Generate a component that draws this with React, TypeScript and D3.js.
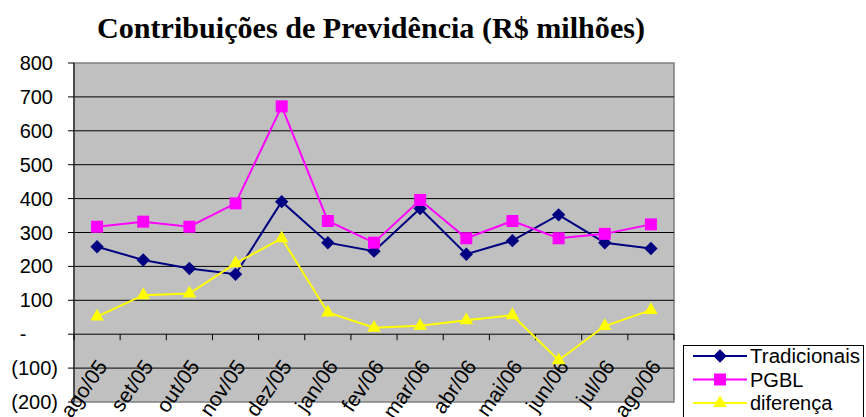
import React, { useEffect, useRef } from "react";
import * as d3 from "d3";

// monthly figures, R$ millions
const months = [
  "ago/05", "set/05", "out/05", "nov/05", "dez/05", "jan/06", "fev/06",
  "mar/06", "abr/06", "mai/06", "jun/06", "jul/06", "ago/06",
];
const tradicionais = [258, 219, 194, 177, 391, 270, 245, 371, 236, 276, 352, 270, 253];
const pgbl = [317, 332, 317, 386, 672, 334, 270, 396, 283, 334, 283, 296, 324];
const diferenca = [52, 115, 120, 209, 283, 64, 19, 25, 41, 56, -77, 24, 71];
const yTicks = [800, 700, 600, 500, 400, 300, 200, 100, 0, -100, -200];

const series = [
  { name: "Tradicionais", values: tradicionais, color: "#000080", shape: "diamond" },
  { name: "PGBL", values: pgbl, color: "#FF00FF", shape: "square" },
  { name: "diferença", values: diferenca, color: "#FFFF00", shape: "triangle" },
];

const fmt = (v: number) => (v === 0 ? "-" : v < 0 ? `(${-v})` : `${v}`);

const App = () => {
  const svgRef = useRef<SVGSVGElement>(null);

  useEffect(() => {
    const root = d3.select(svgRef.current);
    root.selectAll("*").remove();

    const width = 866;
    const height = 417;
    const plot = { left: 74, right: 674, top: 63, bottom: 402 };

    root.attr("width", width).attr("height", height);

    const x = d3.scaleBand().domain(months).range([plot.left, plot.right]);
    const y = d3.scaleLinear().domain([-200, 800]).range([plot.bottom, plot.top]);
    const cx = (m: string) => (x(m) as number) + x.bandwidth() / 2;

    // title
    root
      .append("text")
      .attr("x", 371)
      .attr("y", 38)
      .attr("text-anchor", "middle")
      .attr("font-family", "'Liberation Serif', 'Times New Roman', serif")
      .attr("font-weight", "bold")
      .attr("font-size", 29)
      .attr("textLength", 548)
      .attr("lengthAdjust", "spacingAndGlyphs")
      .text("Contribuições de Previdência (R$ milhões)");

    // plot area
    root
      .append("rect")
      .attr("x", plot.left)
      .attr("y", plot.top)
      .attr("width", plot.right - plot.left)
      .attr("height", plot.bottom - plot.top)
      .attr("fill", "#C0C0C0")
      .attr("stroke", "#808080")
      .attr("stroke-width", 1.5);

    // gridlines
    root
      .append("g")
      .selectAll("line")
      .data(yTicks.filter((d) => d !== 800 && d !== -200))
      .join("line")
      .attr("x1", plot.left)
      .attr("x2", plot.right)
      .attr("y1", (d) => y(d))
      .attr("y2", (d) => y(d))
      .attr("stroke", "#000")
      .attr("stroke-width", 1);

    // value axis
    const font = "'Liberation Sans', Arial, sans-serif";
    const yAxis = root.append("g");
    yAxis
      .append("line")
      .attr("x1", plot.left)
      .attr("x2", plot.left)
      .attr("y1", plot.top)
      .attr("y2", plot.bottom)
      .attr("stroke", "#333")
      .attr("stroke-width", 1.5);
    yAxis
      .selectAll("line.tick")
      .data(yTicks)
      .join("line")
      .attr("class", "tick")
      .attr("x1", plot.left - 6)
      .attr("x2", plot.left)
      .attr("y1", (d) => y(d))
      .attr("y2", (d) => y(d))
      .attr("stroke", "#000");
    yAxis
      .selectAll("text")
      .data(yTicks)
      .join("text")
      .attr("x", (d) => (d === 0 ? 23 : d < 0 ? 58 : 53))
      .attr("y", (d) => y(d))
      .attr("dy", "0.35em")
      .attr("text-anchor", (d) => (d === 0 ? "middle" : "end"))
      .attr("font-family", font)
      .attr("font-size", 20)
      .text((d) => fmt(d));

    // category axis crosses at zero
    const xAxis = root.append("g");
    xAxis
      .selectAll("line")
      .data(d3.range(months.length + 1))
      .join("line")
      .attr("x1", (i) => plot.left + i * x.bandwidth())
      .attr("x2", (i) => plot.left + i * x.bandwidth())
      .attr("y1", y(0))
      .attr("y2", y(0) + 6)
      .attr("stroke", "#000");
    xAxis
      .selectAll("text")
      .data(months)
      .join("text")
      .attr("transform", (d) => `translate(${cx(d) + 5},${y(0) + 28}) rotate(-55)`)
      .attr("text-anchor", "end")
      .attr("dy", "0.35em")
      .attr("font-family", font)
      .attr("font-size", 21)
      .text((d) => d);

    const symbolFor = (shape: string) => {
      if (shape === "square") return d3.symbol(d3.symbolSquare, 144)();
      if (shape === "triangle") return d3.symbol(d3.symbolTriangle, 80)();
      return d3.symbol(d3.symbolSquare, 90)();
    };
    const rot = (shape: string) => (shape === "diamond" ? " rotate(45)" : "");

    // series
    const line = d3
      .line<number>()
      .x((_, i) => cx(months[i]))
      .y((d) => y(d));

    series.forEach((s) => {
      const g = root.append("g");
      g.append("path")
        .attr("d", line(s.values))
        .attr("fill", "none")
        .attr("stroke", s.color)
        .attr("stroke-width", 2);
      g.selectAll("path.mark")
        .data(s.values)
        .join("path")
        .attr("class", "mark")
        .attr("d", symbolFor(s.shape))
        .attr("transform", (d, i) => `translate(${cx(months[i])},${y(d)})${rot(s.shape)}`)
        .attr("fill", s.color);
    });

    // legend
    const legend = root.append("g");
    legend
      .append("rect")
      .attr("x", 683.5)
      .attr("y", 345.5)
      .attr("width", 180)
      .attr("height", 80)
      .attr("fill", "#fff")
      .attr("stroke", "#000");
    series.forEach((s, i) => {
      const ly = 356 + i * 23.5;
      legend
        .append("line")
        .attr("x1", 693)
        .attr("x2", 747)
        .attr("y1", ly)
        .attr("y2", ly)
        .attr("stroke", s.color)
        .attr("stroke-width", 2);
      legend
        .append("path")
        .attr("d", symbolFor(s.shape))
        .attr("transform", `translate(720,${ly})${rot(s.shape)}`)
        .attr("fill", s.color);
      legend
        .append("text")
        .attr("x", 750)
        .attr("y", ly)
        .attr("dy", "0.35em")
        .attr("font-family", font)
        .attr("font-size", 20)
        .attr("textLength", s.name === "Tradicionais" ? 110 : null)
        .attr("lengthAdjust", "spacingAndGlyphs")
        .text(s.name);
    });
  }, []);

  return <svg ref={svgRef} style={{ position: "absolute", left: 0, top: 0 }} />;
};

export default App;
